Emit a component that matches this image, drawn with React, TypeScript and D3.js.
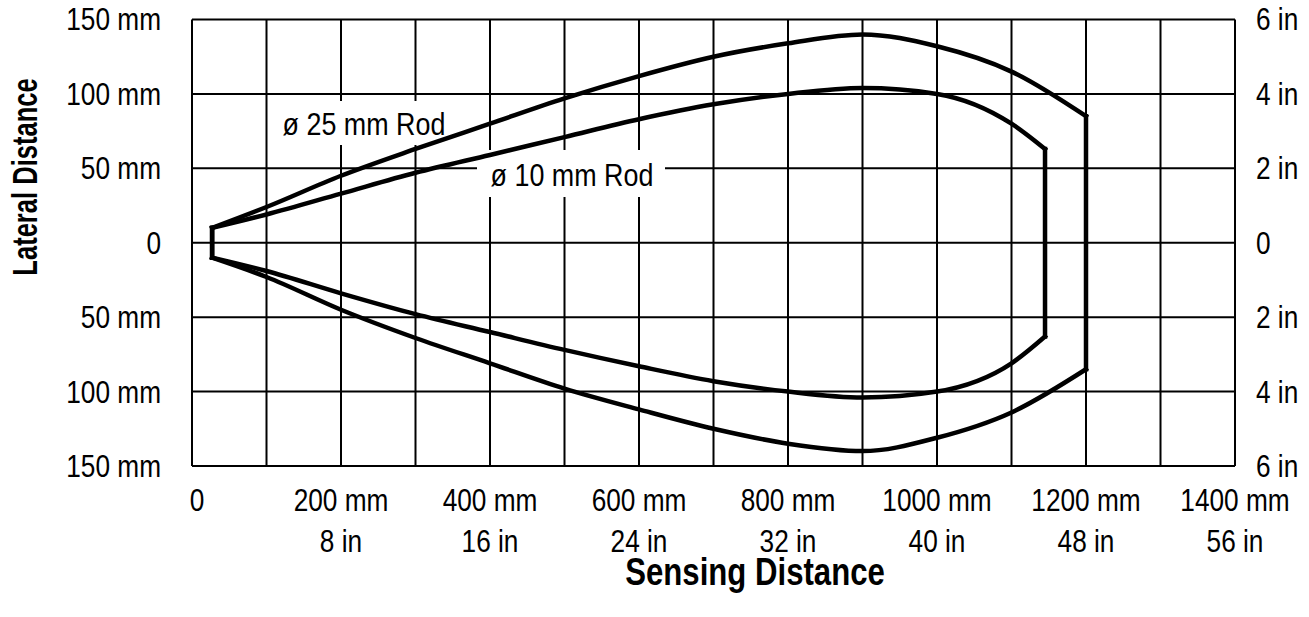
import React from "react";
import * as d3 from "d3";

// sensing distance (mm) along each profile
const outerX = [27, 100, 200, 300, 400, 500, 600, 700, 800, 900, 1000, 1100, 1200];
const outerUpper = [10, 24, 45, 63, 80, 97, 112, 125, 134, 140, 132, 115, 85];
const outerLower = [-10, -23, -45, -64, -81, -98, -112, -125, -135, -140, -131, -114, -85];

const innerX = [27, 100, 200, 300, 400, 500, 600, 700, 800, 900, 1000, 1100, 1145];
const innerUpper = [10, 19, 33, 47, 59, 71, 83, 93, 100, 104, 100, 80, 63];
const innerLower = [-10, -19, -34, -48, -60, -72, -83, -93, -100, -104, -100, -81, -63];

const xTicksMm = [0, 200, 400, 600, 800, 1000, 1200, 1400];
const xLabelsMm = ["0", "200 mm", "400 mm", "600 mm", "800 mm", "1000 mm", "1200 mm", "1400 mm"];
const xLabelsIn = ["", "8 in", "16 in", "24 in", "32 in", "40 in", "48 in", "56 in"];

const yTicksMm = [150, 100, 50, 0, -50, -100, -150];
const yLabelsMm = ["150 mm", "100 mm", "50 mm", "0", "50 mm", "100 mm", "150 mm"];
const yLabelsIn = ["6 in", "4 in", "2 in", "0", "2 in", "4 in", "6 in"];

const W = 1309;
const H = 617;
const FONT = "'Liberation Sans', Arial, sans-serif";

// narrow text: regular sans squeezed horizontally
const Txt = ({ x, y, sx = 0.82, anchor = "middle", rotate = 0, children, ...rest }: any) => (
  <text
    transform={`translate(${x},${y}) rotate(${rotate}) scale(${sx},1)`}
    textAnchor={anchor}
    dominantBaseline="central"
    {...rest}
  >
    {children}
  </text>
);

export default function App() {
  const x = d3.scaleLinear().domain([0, 1400]).range([192, 1235]);
  const y = d3.scaleLinear().domain([-150, 150]).range([466, 19.5]);

  const curve = d3
    .line<[number, number]>()
    .x((d) => x(d[0]))
    .y((d) => y(d[1]))
    .curve(d3.curveMonotoneX);
  const straight = d3
    .line<[number, number]>()
    .x((d) => x(d[0]))
    .y((d) => y(d[1]));

  const gridX = d3.range(0, 1401, 100);
  const gridY = d3.range(-150, 151, 50);

  const profiles = [
    { xs: outerX, up: outerUpper, lo: outerLower },
    { xs: innerX, up: innerUpper, lo: innerLower },
  ];

  return (
    <svg width={W} height={H} style={{ position: "absolute", left: 0, top: 0, background: "#fff" }}>
      <rect x={0} y={0} width={W} height={H} fill="#fff" />
      {/* grid */}
      <g stroke="#000" strokeWidth={2}>
        {gridX.map((v) => (
          <line key={"gx" + v} x1={x(v)} x2={x(v)} y1={y(150)} y2={y(-150)} />
        ))}
        {gridY.map((v) => (
          <line key={"gy" + v} x1={x(0)} x2={x(1400)} y1={y(v)} y2={y(v)} />
        ))}
      </g>

      {/* label boxes knock out the grid */}
      <rect x={272} y={101} width={178} height={44} fill="#fff" />
      <rect x={477} y={150} width={188} height={47} fill="#fff" />

      {/* detection profiles */}
      <g fill="none" stroke="#000" strokeWidth={4.5} strokeLinejoin="miter" strokeLinecap="square">
        {profiles.map((p, i) => {
          const upPts = p.xs.map((v, j) => [v, p.up[j]] as [number, number]);
          const loPts = p.xs.map((v, j) => [v, p.lo[j]] as [number, number]);
          const n = p.xs.length - 1;
          return (
            <g key={i}>
              <path d={curve(upPts) || ""} />
              <path d={curve(loPts) || ""} />
              <path d={straight([upPts[0], loPts[0]]) || ""} />
              <path d={straight([upPts[n], loPts[n]]) || ""} />
            </g>
          );
        })}
      </g>

      <g fontFamily={FONT} fontSize={32} fill="#000">
        <Txt x={364} y={124} sx={0.84}>ø 25 mm Rod</Txt>
        <Txt x={572} y={175} sx={0.84}>ø 10 mm Rod</Txt>

        {yTicksMm.map((v, i) => (
          <Txt key={"yl" + v} x={161} y={y(v)} anchor="end">
            {yLabelsMm[i]}
          </Txt>
        ))}
        {yTicksMm.map((v, i) => (
          <Txt key={"yr" + v} x={1256} y={y(v)} anchor="start">
            {yLabelsIn[i]}
          </Txt>
        ))}
        {xTicksMm.map((v, i) => (
          <Txt key={"xm" + v} x={x(v) + (v === 0 ? 5 : 0)} y={500}>
            {xLabelsMm[i]}
          </Txt>
        ))}
        {xTicksMm.map((v, i) => (
          <Txt key={"xi" + v} x={x(v)} y={541}>
            {xLabelsIn[i]}
          </Txt>
        ))}
      </g>

      <g fontFamily={FONT} fontWeight="bold" fill="#000">
        <Txt x={755} y={572} fontSize={38}>Sensing Distance</Txt>
        <Txt x={25} y={177} rotate={-90} sx={0.71} fontSize={36}>Lateral Distance</Txt>
      </g>
    </svg>
  );
}
